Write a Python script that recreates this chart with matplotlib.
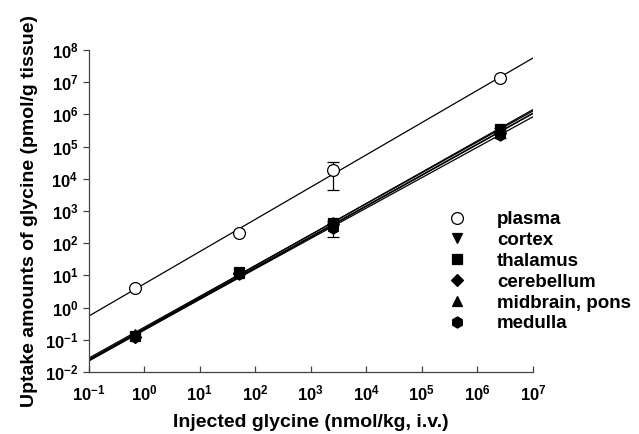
import matplotlib
matplotlib.use("Agg")
import matplotlib.pyplot as plt
from matplotlib.ticker import FixedLocator, FuncFormatter, NullLocator
import numpy as np

plt.rcParams['font.family'] = ['Liberation Sans', 'DejaVu Sans']
plt.rcParams['font.weight'] = 'bold'
plt.rcParams['mathtext.fontset'] = 'custom'
plt.rcParams['mathtext.rm'] = 'Liberation Sans:bold'
plt.rcParams['mathtext.bf'] = 'Liberation Sans:bold'

# injected dose (nmol/kg, i.v.)
dose = [0.67, 50, 2500, 2.5e6]

# uptake amounts (pmol/g tissue)
plasma = [4.0, 200, 1.85e4, 1.3e7]
plasma_err = [0, 0, 1.4e4, 0]
cortex = [0.12, 11, 320, 2.8e5]
thalamus = [0.13, 13, 420, 3.5e5]
cerebellum = [0.12, 12, 400, 2.6e5]
midbrain = [0.15, 12, 450, 3.2e5]
medulla = [0.12, 11, 300, 2.2e5]
tissue_err = [0, 0, 160, 1.0e5]

series = [
    ('plasma', plasma, plasma_err, 'o', 'white', 8.5),
    ('cortex', cortex, tissue_err, 'v', 'black', 7.5),
    ('thalamus', thalamus, [0, 0, 0, 0], 's', 'black', 6.5),
    ('cerebellum', cerebellum, [0, 0, 0, 0], 'D', 'black', 6.5),
    ('midbrain, pons', midbrain, [0, 0, 0, 0], '^', 'black', 7.5),
    ('medulla', medulla, [0, 0, 0, 0], 'h', 'black', 8),
]

fig = plt.figure(figsize=(6.39, 4.34), dpi=100)
ax = fig.add_axes([0.139, 0.143, 0.695, 0.742])

xfit = np.array([1e-1, 1e7])
for name, vals, err, mk, fc, ms in series:
    # log-log regression line over the full axis range
    k, b = np.polyfit(np.log10(dose), np.log10(vals), 1)
    ax.plot(xfit, 10 ** (b + k * np.log10(xfit)), color='black', lw=0.9, zorder=2)
    if any(err):
        ax.errorbar(dose, vals, yerr=err, fmt='none', ecolor='black',
                    elinewidth=0.9, capsize=4, capthick=0.9, zorder=3)
    ax.plot(dose, vals, ls='none', marker=mk, ms=ms, mfc=fc, mec='black',
            mew=0.9, label=name, zorder=4)

ax.set_xscale('log')
ax.set_yscale('log')
ax.set_xlim(1e-1, 1e7)
ax.set_ylim(1e-2, 1e8)

fmt = FuncFormatter(lambda v, p: r'$\mathbf{10^{%d}}$' % round(np.log10(v)))
ax.xaxis.set_major_locator(FixedLocator([10.0 ** e for e in range(-1, 8)]))
ax.yaxis.set_major_locator(FixedLocator([10.0 ** e for e in range(-2, 9)]))
ax.xaxis.set_minor_locator(NullLocator())
ax.yaxis.set_minor_locator(NullLocator())
ax.xaxis.set_major_formatter(fmt)
ax.yaxis.set_major_formatter(fmt)
ax.tick_params(axis='x', direction='in', length=4, width=0.9, labelsize=12, pad=8,
               color='#444444')
ax.tick_params(axis='y', direction='out', length=4, width=0.9, labelsize=12, pad=3.5,
               color='#444444')

for s in ['top', 'right']:
    ax.spines[s].set_visible(False)
for s in ['left', 'bottom']:
    ax.spines[s].set_color('#444444')
    ax.spines[s].set_linewidth(0.9)

ax.set_xlabel('Injected glycine (nmol/kg, i.v.)', fontsize=14, fontweight='bold',
              labelpad=8)
ax.set_ylabel('Uptake amounts of glycine (pmol/g tissue)', fontsize=14,
              fontweight='bold', labelpad=5)

ax.legend(loc='upper left', bbox_to_anchor=(448 / 639, 1 - 211 / 434),
          bbox_transform=fig.transFigure, frameon=False, fontsize=13.5,
          handlelength=1.0, handletextpad=1.6, labelspacing=0.2,
          borderpad=0, borderaxespad=0)

fig.savefig('out.png', dpi=100)
